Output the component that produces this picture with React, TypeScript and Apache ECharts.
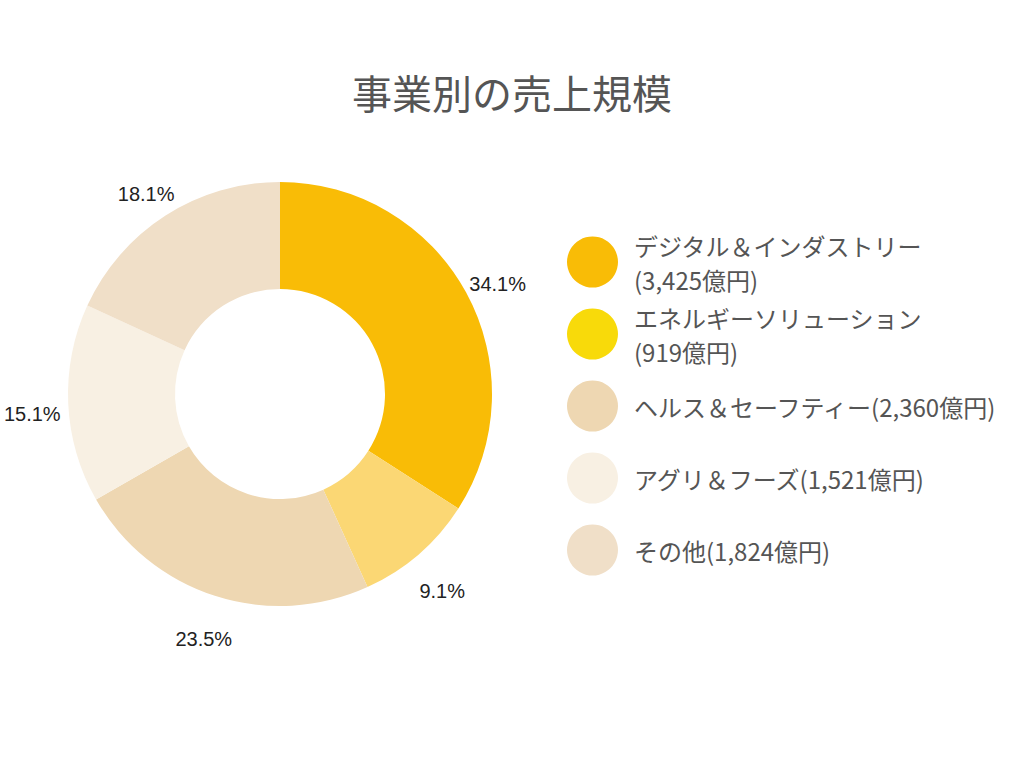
import React, { useEffect, useRef } from "react";
import * as echarts from "echarts";

const titleText = "事業別の売上規模";
const categories = [
  "デジタル＆インダストリー",
  "エネルギーソリューション",
  "ヘルス＆セーフティー",
  "アグリ＆フーズ",
  "その他",
];
const sales = [3425, 919, 2360, 1521, 1824];
const pctLabels = ["34.1%", "9.1%", "23.5%", "15.1%", "18.1%"];
const sliceColors = ["#F9BC06", "#FBD774", "#EED7B2", "#F8F0E3", "#F0DFC8"];
const legendColors = ["#F9BC06", "#F8DA0A", "#EED7B2", "#F8F0E3", "#F0DFC8"];

const CJK = '"Noto Sans CJK JP", "Noto Sans", sans-serif';

export default function App() {
  const ref = useRef<HTMLDivElement>(null);

  useEffect(() => {
    document.body.style.margin = "0";
    if (!ref.current) return;
    const chart = echarts.init(ref.current, null, { renderer: "svg" });

    const data = categories.map((name, i) => ({
      name,
      value: sales[i],
      itemStyle: { color: sliceColors[i] },
    }));

    const legendData = categories.map((name, i) => {
      const twoLine = name.length > 10;
      return {
        name,
        itemStyle: { color: legendColors[i] },
        textStyle: twoLine ? { lineHeight: 34 } : { lineHeight: 68 },
      };
    });

    chart.setOption({
      animation: false,
      backgroundColor: "#ffffff",
      title: {
        text: titleText,
        left: "center",
        top: 67,
        textStyle: {
          fontFamily: CJK,
          fontSize: 40,
          fontWeight: "normal",
          color: "#555555",
        },
      },
      legend: {
        orient: "vertical",
        left: 567,
        top: 228,
        padding: 0,
        itemGap: 4,
        itemWidth: 51,
        itemHeight: 51,
        icon: "circle",
        selectedMode: false,
        data: legendData,
        formatter: (name: string) => {
          const i = categories.indexOf(name);
          const v = sales[i].toLocaleString("en-US");
          const sep = name.length > 10 ? "\n" : "";
          return `${name}${sep}(${v}億円)`;
        },
        textStyle: {
          fontFamily: CJK,
          fontSize: 24,
          color: "#555555",
          lineHeight: 68,
          padding: [0, 0, 0, 11],
        },
      },
      series: [
        {
          type: "pie",
          name: "売上",
          center: [280, 394],
          radius: [105, 212],
          startAngle: 90,
          clockwise: true,
          silent: true,
          label: { show: false },
          labelLine: { show: false },
          emphasis: { disabled: true },
          data,
        },
        {
          type: "pie",
          name: "割合",
          center: [280, 403],
          radius: [232, 258],
          startAngle: 90,
          clockwise: true,
          silent: true,
          itemStyle: { color: "rgba(0,0,0,0)" },
          emphasis: { disabled: true },
          labelLine: { show: false },
          label: {
            show: true,
            position: "inside",
            formatter: (p: any) => pctLabels[p.dataIndex],
            fontFamily: '"Liberation Sans", Arial, sans-serif',
            fontSize: 20,
            color: "#222222",
          },
          data: categories.map((name, i) => ({ name, value: sales[i] })),
        },
      ],
    });

    return () => chart.dispose();
  }, []);

  return <div ref={ref} style={{ width: 1024, height: 768 }} />;
}
